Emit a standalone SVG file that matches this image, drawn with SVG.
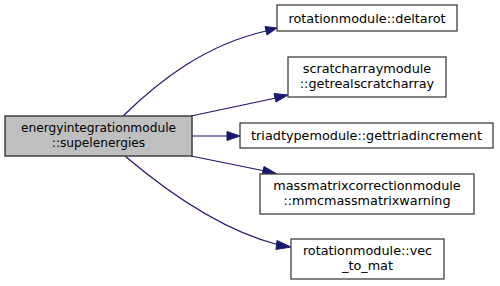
<svg xmlns="http://www.w3.org/2000/svg" width="500" height="286" viewBox="0 0 500 286">
  <style>
    .box { fill: #ffffff; stroke: #404040; stroke-width: 1.3; }
    .focus { fill: #bfbfbf; stroke: #404040; stroke-width: 1.5; }
    .lbl { font-family: "DejaVu Sans", "Liberation Sans", sans-serif; font-size: 12.8px; fill: #000000; text-anchor: middle; }
    .small { font-size: 12.2px; }
    .edge { fill: none; stroke: #191970; stroke-width: 1.2; }
    .head { fill: #191970; stroke: #191970; stroke-width: 1; }
  </style>
  <rect width="500" height="286" fill="#ffffff"/>

  <!-- calls from the focus function -->
  <g id="connectors">
    <path class="edge" d="M123,116 C160,80 205,45 266,31"/>
    <polygon class="head" points="265,26.5 277,28 267,35"/>
    <path class="edge" d="M191,116 L276,98"/>
    <polygon class="head" points="274,93.5 288,95 276,102"/>
    <path class="edge" d="M192,136 L227,136"/>
    <polygon class="head" points="227,131.5 240,136 227,140.5"/>
    <path class="edge" d="M191,156 L265,171"/>
    <polygon class="head" points="264,166.5 277,174 262,175"/>
    <path class="edge" d="M125,156 C165,190 220,230 279,245"/>
    <polygon class="head" points="277,240.5 291,247 276,249.5"/>
  </g>

  <g id="node-supelenergies">
    <rect class="focus" x="5" y="116" width="187" height="40"/>
    <text class="lbl small" x="98.5" y="132">energyintegrationmodule</text>
    <text class="lbl small" x="98.5" y="147">::supelenergies</text>
  </g>

  <g id="node-deltarot">
    <rect class="box" x="277" y="5" width="180" height="26"/>
    <text class="lbl" x="367" y="22.5">rotationmodule::deltarot</text>
  </g>

  <g id="node-getrealscratcharray">
    <rect class="box" x="288" y="57" width="158" height="40"/>
    <text class="lbl" x="367" y="73">scratcharraymodule</text>
    <text class="lbl" x="367" y="88">::getrealscratcharray</text>
  </g>

  <g id="node-gettriadincrement">
    <rect class="box" x="240" y="123" width="253" height="25"/>
    <text class="lbl" x="366.5" y="140">triadtypemodule::gettriadincrement</text>
  </g>

  <g id="node-mmcmassmatrixwarning">
    <rect class="box" x="260" y="174" width="214" height="40"/>
    <text class="lbl" x="367" y="190">massmatrixcorrectionmodule</text>
    <text class="lbl" x="367" y="205">::mmcmassmatrixwarning</text>
  </g>

  <g id="node-vec_to_mat">
    <rect class="box" x="291" y="239" width="153" height="40"/>
    <text class="lbl" x="367.5" y="255">rotationmodule::vec</text>
    <text class="lbl" x="367.5" y="270">_to_mat</text>
  </g>
</svg>
